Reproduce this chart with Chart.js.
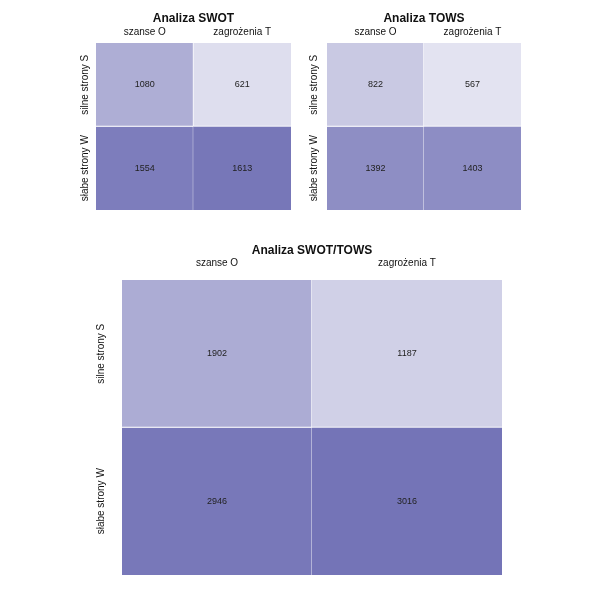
<!DOCTYPE html>
<html>
<head>
<meta charset="utf-8">
<script src="https://cdn.jsdelivr.net/npm/chart.js@4/dist/chart.umd.min.js"></script>
<style>
    body { margin: 0; background: #fff; }
    #wrap { position: relative; width: 600px; height: 600px; }
    canvas { position: absolute; }
</style>
</head>
<body>
<div id="wrap">
    <canvas id="swot" width="300" height="215" style="left:0;top:0"></canvas>
    <canvas id="tows" width="300" height="215" style="left:300px;top:0"></canvas>
    <canvas id="both" width="600" height="370" style="left:0;top:230px"></canvas>
</div>
<script>
const columns = ['szanse O', 'zagrożenia T']
const rows = ['silne strony S', 'słabe strony W']

const swotS = [1080, 621]
const swotW = [1554, 1613]
const towsS = [822, 567]
const towsW = [1392, 1403]
const bothS = [1902, 1187]
const bothW = [2946, 3016]

const family = "'Liberation Sans', Arial, sans-serif"

// white -> purple ramp, linear in the value
function shade(v, lo, hi) {
    let t = (v - lo) / (hi - lo)
    t = Math.max(0, Math.min(1, t))
    const r = Math.round(255 + (116 - 255) * t)
    const b = Math.round(255 + (183 - 255) * t)
    return `rgb(${r},${r},${b})`
}

function heatmap(id, title, series, o) {
    const canvas = document.getElementById(id)
    const datasets = series.map((vals, i) => ({
        label: rows[i],
        values: vals,
        data: vals.map(() => [rows.length - 1 - i, rows.length - i]),
        backgroundColor: vals.map(v => shade(v, o.lo, o.hi)),
        borderColor: '#ffffff',
        borderSkipped: false,
        borderWidth: ctx => ({
            top: 0,
            left: 0,
            right: ctx.dataIndex < columns.length - 1 ? 1 : 0,
            bottom: ctx.datasetIndex < rows.length - 1 ? 1 : 0
        }),
        barPercentage: 1,
        categoryPercentage: 1
    }))

    const labelsPlugin = {
        id: 'cellLabels',
        afterDatasetsDraw(chart) {
            const c = chart.ctx
            c.save()
            c.fillStyle = '#222'
            c.font = `9px ${family}`
            c.textAlign = 'center'
            c.textBaseline = 'middle'
            chart.data.datasets.forEach((ds, d) => {
                chart.getDatasetMeta(d).data.forEach((el, i) => {
                    c.fillText(ds.values[i], el.x, (el.y + el.base) / 2)
                })
            })
            c.restore()
        },
        afterDraw(chart) {
            const c = chart.ctx
            const y = chart.scales.y
            c.save()
            c.fillStyle = '#111'
            c.font = `10px ${family}`
            c.textAlign = 'center'
            c.textBaseline = 'middle'
            rows.forEach((r, i) => {
                const py = y.getPixelForValue(rows.length - 1 - i + 0.5)
                c.save()
                c.translate(chart.chartArea.left - o.rowGap, py)
                c.rotate(-Math.PI / 2)
                c.fillText(r, 0, 0)
                c.restore()
            })
            c.restore()
        }
    }

    new Chart(canvas, {
        type: 'bar',
        data: { labels: columns, datasets: datasets },
        options: {
            responsive: false,
            animation: false,
            devicePixelRatio: 1,
            layout: {
                padding: { left: 0, top: 0, right: canvas.width - o.right, bottom: canvas.height - o.bottom }
            },
            plugins: {
                legend: { display: false },
                tooltip: { enabled: false },
                title: {
                    display: true,
                    text: title,
                    fullSize: false,
                    color: '#111',
                    font: { family: family, size: 12, weight: 'bold', lineHeight: 1.2 },
                    padding: { top: o.titleTop, bottom: 0 }
                }
            },
            scales: {
                x: {
                    position: 'top',
                    stacked: true,
                    grid: { display: false, drawTicks: false },
                    border: { display: false },
                    ticks: { color: '#111', font: { family: family, size: 10 }, padding: o.axisPad, maxRotation: 0 },
                    afterFit: s => { s.height = o.axisHeight }
                },
                y: {
                    min: 0,
                    max: rows.length,
                    grid: { display: false, drawTicks: false },
                    border: { display: false },
                    ticks: { display: false },
                    afterFit: s => { s.width = o.left }
                }
            }
        },
        plugins: [labelsPlugin]
    })
}

heatmap('swot', 'Analiza SWOT', [swotS, swotW],
    { left: 96, right: 291, bottom: 210, titleTop: 11, axisHeight: 17.6, axisPad: 5, rowGap: 11, lo: 300, hi: 1640 })
heatmap('tows', 'Analiza TOWS', [towsS, towsW],
    { left: 27, right: 221, bottom: 210, titleTop: 11, axisHeight: 17.6, axisPad: 5, rowGap: 13, lo: 300, hi: 1640 })
heatmap('both', 'Analiza SWOT/TOWS', [bothS, bothW],
    { left: 122, right: 502, bottom: 345, titleTop: 13, axisHeight: 22.6, axisPad: 11, rowGap: 21, lo: 265, hi: 3016 })
</script>
</body>
</html>
